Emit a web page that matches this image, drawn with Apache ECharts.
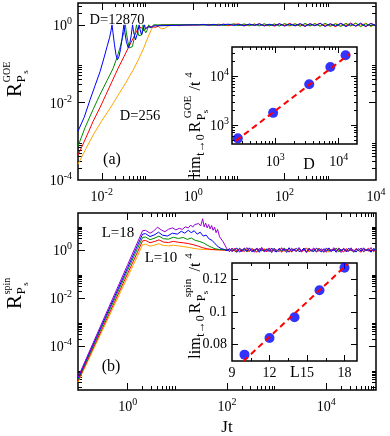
<!DOCTYPE html>
<html>
<head>
<meta charset="utf-8">
<script src="https://cdn.jsdelivr.net/npm/echarts@6.0.0/dist/echarts.min.js"></script>
<style>
  html, body { margin: 0; padding: 0; background: #fff; }
  #main { width: 390px; height: 436px; }
</style>
</head>
<body>
<div id="main"></div>
<script>
// panel (a), GOE: points as [log10(Jt), log10(R)]
const goeD12870 = [[-2.52,-2.74],[-2.385,-2.385],[-2.254,-1.923],[-2.146,-1.564],[-2.037,-1.205],[-1.95,-0.846],[-1.885,-0.564],[-1.83,-0.333],[-1.798,-0.154],[-1.776,0],[-1.754,-0.205],[-1.722,-0.513],[-1.689,-0.769],[-1.657,-0.897],[-1.624,-0.821],[-1.591,-0.641],[-1.559,-0.385],[-1.537,-0.179],[-1.515,0],[-1.493,-0.205],[-1.461,-0.436],[-1.422,-0.59],[-1.389,-0.487],[-1.357,-0.282],[-1.326,0],[-1.304,-0.179],[-1.261,-0.385],[-1.222,-0.231],[-1.183,0],[-1.161,-0.128],[-1.13,-0.256],[-1.102,-0.154],[-1.065,0],[-1.043,-0.103],[-1.015,-0.154],[-0.983,-0.051],[-0.95,0],[-0.907,-0.064],[-0.863,-0.026],[-0.82,0]];
const goeD3432 = [[-2.52,-3.128],[-2.363,-2.641],[-2.189,-2.179],[-2.037,-1.795],[-1.885,-1.436],[-1.754,-1.128],[-1.667,-0.846],[-1.602,-0.59],[-1.548,-0.333],[-1.509,-0.154],[-1.483,0],[-1.461,-0.205],[-1.428,-0.436],[-1.396,-0.59],[-1.363,-0.628],[-1.33,-0.564],[-1.298,-0.385],[-1.265,-0.154],[-1.239,0],[-1.217,-0.154],[-1.189,-0.282],[-1.157,-0.333],[-1.124,-0.256],[-1.096,0],[-1.07,-0.128],[-1.037,-0.205],[-1.004,-0.128],[-0.972,0],[-0.939,-0.077],[-0.907,-0.103],[-0.863,0],[-0.82,-0.038],[-0.776,0]];
const goeD924 = [[-2.52,-3.359],[-2.341,-2.897],[-2.189,-2.487],[-2.037,-2.128],[-1.907,-1.795],[-1.776,-1.462],[-1.646,-1.128],[-1.515,-0.821],[-1.407,-0.564],[-1.32,-0.359],[-1.243,-0.179],[-1.189,-0.051],[-1.157,0],[-1.124,-0.077],[-1.08,-0.154],[-1.037,-0.128],[-0.993,-0.038],[-0.95,0],[-0.885,-0.051],[-0.82,-0.064],[-0.754,-0.026],[-0.689,0]];
const goeD256 = [[-2.52,-3.59],[-2.341,-3.179],[-2.167,-2.795],[-1.993,-2.462],[-1.82,-2.154],[-1.646,-1.821],[-1.472,-1.487],[-1.32,-1.179],[-1.189,-0.872],[-1.08,-0.59],[-0.993,-0.333],[-0.928,-0.154],[-0.874,-0.026],[-0.82,0],[-0.754,-0.051],[-0.689,-0.103],[-0.624,-0.09],[-0.559,-0.038],[-0.472,0],[-0.385,-0.013],[-0.298,-0.026],[-0.189,0]];

// panel (a) late-time plateau
const goePlatJt = [1,1.3,1.7,2.2,2.8,3.6,4.6,6,7.7,10,13,17,22,28,36,46,60,77,100,130,170,220,280,360,460,600,770,1000,1300,1700,2200,2800,3600,4600,6000,7700,10000];
const goePlat12870 = [1.00,0.99,1.02,0.98,1.03,0.97,1.02,1.04,0.96,1.03,0.95,1.05,0.97,1.06,0.94,1.04,0.96,1.07,0.93,1.05,0.95,1.08,0.92,1.06,0.95,1.09,0.91,1.07,0.94,1.10,0.90,1.06,0.93,1.11,0.91,1.08,0.95];
const goePlat3432 = [1.01,1.02,0.98,1.03,0.97,1.04,0.96,1.02,1.05,0.95,1.06,0.96,1.04,0.94,1.07,0.95,1.05,0.93,1.08,0.96,1.06,0.92,1.09,0.94,1.07,0.92,1.10,0.93,1.06,0.91,1.09,0.94,1.11,0.90,1.07,0.93,1.04];
const goePlat924 = [0.99,1.01,1.03,0.97,1.02,0.98,1.05,0.96,1.03,1.06,0.94,1.04,0.97,1.07,0.95,1.03,0.93,1.06,0.96,1.09,0.94,1.05,0.91,1.08,0.96,1.10,0.93,1.05,0.90,1.08,0.95,1.12,0.92,1.06,0.91,1.09,0.97];
const goePlat256 = [1.00,0.98,1.01,1.03,0.96,1.04,0.98,0.95,1.06,0.97,1.03,0.94,1.07,0.96,1.05,0.93,1.06,0.97,1.04,0.92,1.08,0.95,1.06,0.93,1.10,0.94,1.05,0.91,1.09,0.96,1.07,0.92,1.10,0.94,1.12,0.90,1.05];

// inset (a)
const insetD = [256, 924, 3432, 7400, 12870];
const insetGoe = [535, 1780, 6870, 15500, 27000];
const insetGoeFitD = [240, 15100];
const insetGoeFitR = [480, 29000];

// panel (b), spin chain: [log10(Jt), log10(R)]
const spinL18 = [[-1,-5.3],[-0.5,-2.95],[0,-0.61],[0.2,0.33],[0.3,0.8],[0.36,0.82],[0.45,0.7],[0.52,0.78],[0.6,0.95],[0.68,0.83],[0.75,0.76],[0.82,0.86],[0.9,0.92],[0.97,0.84],[1.04,0.9],[1.1,0.86],[1.16,0.96],[1.22,0.92],[1.27,1.04],[1.31,0.95],[1.35,1.06],[1.39,0.98],[1.43,1.1],[1.47,1.0],[1.51,1.3],[1.54,0.96],[1.57,1.12],[1.6,0.92],[1.63,1.06],[1.66,0.88],[1.69,1.02],[1.72,0.82],[1.75,0.95],[1.78,0.72],[1.81,0.86],[1.85,0.55],[1.88,0.62],[1.92,0.35],[1.96,0.2]];
const spinL16 = [[-1,-5.35],[-0.5,-3.04],[0,-0.73],[0.2,0.2],[0.3,0.66],[0.36,0.68],[0.45,0.56],[0.55,0.64],[0.62,0.74],[0.7,0.62],[0.8,0.58],[0.9,0.7],[1.0,0.66],[1.08,0.78],[1.15,0.7],[1.22,0.82],[1.28,0.72],[1.34,0.8],[1.4,0.66],[1.46,0.74],[1.52,0.58],[1.58,0.62],[1.64,0.46],[1.7,0.4],[1.76,0.26],[1.82,0.14],[1.88,0.06],[1.95,0.02]];
const spinL14 = [[-1,-5.4],[-0.5,-3.12],[0,-0.84],[0.2,0.07],[0.3,0.52],[0.36,0.54],[0.45,0.43],[0.55,0.5],[0.63,0.58],[0.72,0.47],[0.82,0.45],[0.92,0.53],[1.02,0.48],[1.12,0.52],[1.2,0.44],[1.28,0.5],[1.36,0.4],[1.44,0.36],[1.52,0.3],[1.6,0.2],[1.68,0.12],[1.76,0.05],[1.85,0.02]];
const spinL12 = [[-1,-5.45],[-0.5,-3.22],[0,-0.98],[0.2,-0.08],[0.3,0.38],[0.36,0.4],[0.45,0.3],[0.55,0.36],[0.63,0.42],[0.72,0.33],[0.82,0.31],[0.92,0.36],[1.02,0.32],[1.12,0.3],[1.22,0.27],[1.32,0.22],[1.42,0.16],[1.5,0.1],[1.6,0.05],[1.7,0.02]];
const spinL10 = [[-1,-5.5],[-0.5,-3.31],[0,-1.12],[0.2,-0.24],[0.3,0.22],[0.36,0.24],[0.45,0.16],[0.55,0.21],[0.63,0.26],[0.72,0.19],[0.82,0.17],[0.92,0.2],[1.02,0.17],[1.12,0.14],[1.22,0.11],[1.32,0.07],[1.42,0.04],[1.52,0.02]];

// panel (b) late-time plateau
const spinPlatJt = [100,112,126,141,158,178,200,224,251,282,316,355,398,447,501,562,631,708,794,891,1000,1122,1259,1413,1585,1778,1995,2239,2512,2818,3162,3548,3981,4467,5012,5623,6310,7079,7943,8913,10000,11220,12590,14130,15850,17780,19950,22390,25120,28180,31620,35480,39810,44670,50120,56230,63100,70790,79430,89130,100000];
const spinPlat18 = [1.08,0.84,1.21,0.95,0.79,1.17,1.02,0.88,1.26,0.91,1.05,0.8,1.15,0.97,1.29,0.86,0.93,1.19,0.78,1.1,1.01,0.85,1.24,0.92,1.07,0.81,1.18,0.96,0.87,1.27,0.9,1.04,0.79,1.16,0.99,1.22,0.83,0.94,1.13,0.8,1.2,1.0,0.86,1.25,0.93,1.06,0.78,1.17,0.95,0.88,1.23,0.82,1.09,0.97,1.19,0.84,1.02,0.9,1.26,0.85,1.05];
const spinPlat16 = [0.93,1.14,0.87,1.05,1.2,0.82,0.98,1.16,0.89,1.23,0.84,1.01,1.12,0.8,1.18,0.94,1.06,0.86,1.21,0.91,0.83,1.15,0.97,1.09,0.79,1.24,0.88,1.03,1.17,0.85,0.95,1.2,0.81,1.1,0.92,0.86,1.19,1.0,0.83,1.14,0.9,1.22,0.87,1.04,0.8,1.16,0.96,1.11,0.84,1.2,0.93,0.99,0.82,1.15,0.89,1.23,0.94,1.07,0.81,1.13,0.98];
const spinPlat14 = [1.02,0.9,1.13,0.96,0.85,1.18,0.93,1.07,0.82,1.15,1.0,0.88,1.21,0.92,1.04,0.84,1.12,0.97,0.8,1.19,0.9,1.06,0.86,1.22,0.95,0.83,1.1,1.01,0.87,1.17,0.94,1.08,0.81,1.2,0.91,1.03,0.85,1.14,0.98,0.82,1.18,0.89,1.05,0.93,1.21,0.84,1.0,1.12,0.87,0.96,1.16,0.8,1.09,0.92,1.19,0.86,1.04,0.95,0.83,1.14,1.0];
const spinPlat12 = [0.97,1.1,0.86,1.16,0.92,1.04,0.83,1.2,0.95,0.88,1.13,1.0,0.81,1.17,0.9,1.07,0.85,1.22,0.94,1.02,0.87,1.14,0.8,1.09,0.96,1.19,0.84,1.05,0.91,1.15,0.82,1.0,1.21,0.89,0.95,1.11,0.84,1.18,0.93,1.03,0.8,1.16,0.9,1.08,0.86,1.2,0.97,0.83,1.12,0.92,1.06,0.85,1.17,0.94,0.81,1.1,0.99,1.19,0.88,1.04,0.96];
const spinPlat10 = [1.01,0.93,1.08,0.87,1.15,0.95,1.03,0.84,1.12,0.9,1.19,0.98,0.86,1.06,0.92,1.17,0.82,1.04,0.96,1.13,0.88,1.0,1.2,0.85,1.09,0.94,0.83,1.16,0.91,1.05,0.87,1.21,0.97,0.84,1.1,0.93,1.18,0.86,1.02,0.9,1.14,0.81,1.07,0.95,1.19,0.88,1.0,0.85,1.15,0.92,1.04,0.83,1.11,0.96,1.2,0.87,1.03,0.91,1.16,0.85,0.99];

// inset (b)
const insetL = [10, 12, 14, 16, 18];
const insetSpin = [0.0739, 0.0841, 0.0968, 0.1133, 0.1271];
const insetSpinFitL = [9.93, 18.27];
const insetSpinFitR = [0.07, 0.1295];

// tick labels
const goeXLabels = [1e-2, 1, 1e2, 1e4];
const goeYLabels = [1e-4, 1e-2, 1];
const spinXLabels = [1, 1e2, 1e4];
const spinYLabels = [1e-4, 1e-2, 1];
const insetDLabels = [1e3, 1e4];
const insetGoeLabels = [1e3, 1e4];
const insetLLabels = [9, 12, 15, 18];
const insetSpinLabels = [0.08, 0.1, 0.12];

const FONT = '"Liberation Serif", "DejaVu Serif", serif';
const BLUE = '#0000ff', GREEN = '#008b00', RED = '#ff0000', ORANGE = '#ffa500', VIOLET = '#9400d3';

const fromLog = (arr) => arr.map(p => [Math.pow(10, p[0]), Math.pow(10, p[1])]);
const withPlateau = (curve, ts, rs) => fromLog(curve).concat(ts.map((t, i) => [t, rs[i]]));

function minorsOf(exps, lo, hi) {
  const out = [];
  exps.forEach(e => {
    for (let k = 2; k <= 9; k++) {
      const v = k * Math.pow(10, e);
      if (v > lo && v < hi) out.push(v);
    }
  });
  return out;
}

const powRich = {
  b: { fontSize: 14, fontFamily: FONT, color: '#000', lineHeight: 17, verticalAlign: 'bottom' },
  s: { fontSize: 10, fontFamily: FONT, color: '#000', lineHeight: 10, verticalAlign: 'top' }
};
const powLabel = (v) => '{b|10}{s|' + Math.round(Math.log10(v)) + '}';

const xAxes = [];
const yAxes = [];

function axis(list, o) {
  const a = {
    type: o.type || 'log',
    gridIndex: o.grid,
    position: o.pos,
    min: o.min,
    max: o.max,
    axisLine: { show: false },
    splitLine: { show: false },
    axisTick: { show: true, inside: true, length: o.len, customValues: o.ticks,
      lineStyle: { color: '#000', width: 1 } },
    axisLabel: { show: false }
  };
  if (a.type === 'log') a.logBase = 10;
  if (o.labels) {
    a.axisLabel = {
      show: true, customValues: o.labels, margin: o.margin,
      formatter: o.fmt || powLabel, rich: o.fmt ? undefined : powRich,
      color: '#000', fontFamily: FONT, fontSize: 14
    };
  }
  list.push(a);
  return list.length - 1;
}

// one framed panel: labelled axes plus mirrored ticks on the other sides
function frame(g, xr, yr, xMaj, xMin, yMaj, yMin, xLab, yLab, opt) {
  const big = opt.big, small = opt.small;
  const xi = axis(xAxes, { grid: g, pos: 'bottom', min: xr[0], max: xr[1], ticks: xMaj, len: big,
    labels: xLab, margin: opt.xm, fmt: opt.xfmt, type: opt.xtype });
  axis(xAxes, { grid: g, pos: 'bottom', min: xr[0], max: xr[1], ticks: xMin, len: small, type: opt.xtype });
  axis(xAxes, { grid: g, pos: 'top', min: xr[0], max: xr[1], ticks: xMaj, len: big, type: opt.xtype });
  axis(xAxes, { grid: g, pos: 'top', min: xr[0], max: xr[1], ticks: xMin, len: small, type: opt.xtype });
  const yi = axis(yAxes, { grid: g, pos: 'left', min: yr[0], max: yr[1], ticks: yMaj, len: big,
    labels: yLab, margin: opt.ym, fmt: opt.yfmt, type: opt.ytype });
  axis(yAxes, { grid: g, pos: 'left', min: yr[0], max: yr[1], ticks: yMin, len: small, type: opt.ytype });
  axis(yAxes, { grid: g, pos: 'right', min: yr[0], max: yr[1], ticks: yMaj, len: big, type: opt.ytype });
  axis(yAxes, { grid: g, pos: 'right', min: yr[0], max: yr[1], ticks: yMin, len: small, type: opt.ytype });
  return [xi, yi];
}

const goeX = [Math.pow(10, -2.52), 1e4], goeY = [1e-4, Math.pow(10, 0.564)];
const spinX = [0.1, 1e5], spinY = [Math.pow(10, -5.83), Math.pow(10, 1.54)];
const inDX = [207, 19500], inDY = [410, 39800];
const inLX = [9, 19], inLY = [0.07, 0.13];

const [ax, ay] = frame(0, goeX, goeY, [1e-2, 1, 1e2], minorsOf([-2, 0, 2], goeX[0], goeX[1]),
  [1e-2, 1], minorsOf([-4, -2, 0], goeY[0], goeY[1]), goeXLabels, goeYLabels,
  { big: 7, small: 4, xm: 7, ym: 6 });
const [bx, by] = frame(1, spinX, spinY, [1, 1e2, 1e4], minorsOf([0, 2, 4], spinX[0], spinX[1]),
  [1e-4, 1e-2, 1], minorsOf([-6, -4, -2, 0], spinY[0], spinY[1]), spinXLabels, spinYLabels,
  { big: 7, small: 4, xm: 7, ym: 6 });
const [cx, cy] = frame(2, inDX, inDY, [1e3, 1e4], minorsOf([2, 3, 4], inDX[0], inDX[1]),
  [1e3, 1e4], minorsOf([2, 3, 4], inDY[0], inDY[1]), insetDLabels, insetGoeLabels,
  { big: 6, small: 3, xm: 8, ym: 3 });
const numFmt = (v) => String(+v.toFixed(2));
const [dx, dy] = frame(3, inLX, inLY, [12, 15, 18], [10.5, 13.5, 16.5],
  [0.08, 0.1, 0.12], [0.09, 0.11], insetLLabels, insetSpinLabels,
  { big: 6, small: 3, xm: 5, ym: 5, xtype: 'value', ytype: 'value', xfmt: numFmt, yfmt: numFmt });

function line(data, color, xi, yi, extra) {
  return Object.assign({
    type: 'line', data: data, xAxisIndex: xi, yAxisIndex: yi,
    symbol: 'none', showSymbol: false, silent: true, animation: false,
    lineStyle: { color: color, width: 1 }, itemStyle: { color: color }
  }, extra || {});
}

const series = [
  line(withPlateau(goeD256, goePlatJt, goePlat256), ORANGE, ax, ay),
  line(withPlateau(goeD924, goePlatJt, goePlat924), RED, ax, ay),
  line(withPlateau(goeD3432, goePlatJt, goePlat3432), GREEN, ax, ay),
  line(withPlateau(goeD12870, goePlatJt, goePlat12870), BLUE, ax, ay),

  line(withPlateau(spinL10, spinPlatJt, spinPlat10), ORANGE, bx, by),
  line(withPlateau(spinL12, spinPlatJt, spinPlat12), RED, bx, by),
  line(withPlateau(spinL14, spinPlatJt, spinPlat14), GREEN, bx, by),
  line(withPlateau(spinL16, spinPlatJt, spinPlat16), BLUE, bx, by),
  line(withPlateau(spinL18, spinPlatJt, spinPlat18), VIOLET, bx, by),

  line(insetGoeFitD.map((d, i) => [d, insetGoeFitR[i]]), RED, cx, cy,
    { lineStyle: { color: RED, width: 2, type: [6, 4] } }),
  { type: 'scatter', data: insetD.map((d, i) => [d, insetGoe[i]]), xAxisIndex: cx, yAxisIndex: cy,
    symbol: 'circle', symbolSize: 10, itemStyle: { color: BLUE }, silent: true, animation: false },

  line(insetSpinFitL.map((l, i) => [l, insetSpinFitR[i]]), RED, dx, dy,
    { lineStyle: { color: RED, width: 2, type: [6, 4] } }),
  { type: 'scatter', data: insetL.map((l, i) => [l, insetSpin[i]]), xAxisIndex: dx, yAxisIndex: dy,
    symbol: 'circle', symbolSize: 10, itemStyle: { color: BLUE }, silent: true, animation: false }
];

function txt(s, x, y, size, rot) {
  return {
    type: 'text', x: x, y: y, rotation: rot || 0, z: 100, silent: true,
    style: { text: s, fontSize: size, fontFamily: FONT, fill: '#000', align: 'center', verticalAlign: 'middle' }
  };
}
const UP = Math.PI / 2;

// rotated "lim_{t->0} R^{sup}_{P_s} / t^4", laid out from its lower end y0
function limTitle(sup, y0) {
  return [
    txt('lim', 196, y0 - 10, 16, UP), txt('t\u21920', 201, y0 - 32, 12, UP),
    txt('R', 196, y0 - 50, 16, UP),
    txt(sup, 188.5, y0 - 70, 11, UP), txt('P', 202, y0 - 60, 12, UP), txt('s', 205.5, y0 - 65.5, 9, UP),
    txt('/t', 196, y0 - 91, 16, UP), txt('4', 189, y0 - 102, 11, UP)
  ];
}

const graphics = [
  txt('D=12870', 117, 20, 14.5), txt('D=256', 140, 116, 14.5), txt('(a)', 112, 160, 16),
  txt('L=18', 118, 233, 15), txt('L=10', 161, 258, 15), txt('(b)', 111, 367, 16),
  txt('Jt', 227, 428, 17), txt('D', 309, 165, 16), txt('L', 295, 373, 16),
  // R^GOE_Ps
  txt('R', 15, 90, 21, UP), txt('GOE', 7, 72, 10, UP), txt('P', 22, 79, 13, UP), txt('s', 26, 72, 9, UP),
  // R^spin_Ps
  txt('R', 15, 302, 21, UP), txt('spin', 7, 286, 10, UP), txt('P', 22, 291, 13, UP), txt('s', 26, 284, 9, UP)
].concat(limTitle('GOE', 177), limTitle('spin', 358));

const gridBase = { show: true, borderColor: '#000', borderWidth: 1.5, containLabel: false, outerBoundsMode: 'none' };
const chart = echarts.init(document.getElementById('main'), null, { renderer: 'canvas' });
chart.setOption({
  animation: false,
  backgroundColor: '#fff',
  grid: [
    Object.assign({ left: 78, top: 3, width: 298, height: 177 }, gridBase),
    Object.assign({ left: 78, top: 213, width: 298, height: 177 }, gridBase),
    Object.assign({ left: 232, top: 47, width: 125, height: 97, backgroundColor: '#fff' }, gridBase),
    Object.assign({ left: 232, top: 263, width: 125, height: 98, backgroundColor: '#fff' }, gridBase)
  ],
  xAxis: xAxes,
  yAxis: yAxes,
  series: series,
  graphic: graphics
});
</script>
</body>
</html>
